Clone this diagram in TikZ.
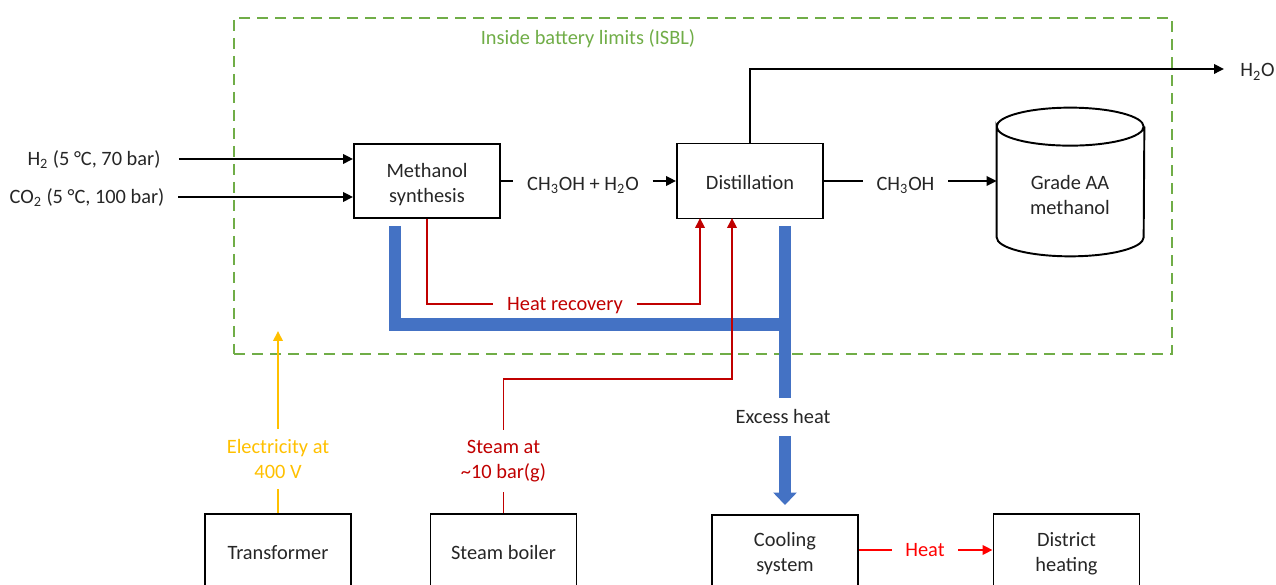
\documentclass[tikz,border=0pt]{standalone}
\usepackage{fontspec}
\usepackage{xcolor}
\setmainfont{Carlito}
\usetikzlibrary{arrows.meta}
\definecolor{limitgreen}{HTML}{70AD47}
\definecolor{heatblue}{HTML}{4472C4}
\definecolor{steamred}{HTML}{C00000}
\definecolor{powergold}{HTML}{FFC000}

\begin{document}
\begin{tikzpicture}[>={Triangle[length=0.2cm,width=0.19cm]},
        unit/.style={draw, line width=1.1pt, minimum width=2.92cm, minimum height=1.48cm, align=center, inner sep=0pt, text=black!85, font=\fontsize{11.6}{14.2}\selectfont},
        lbl/.style={align=center, inner xsep=0.27cm, inner ysep=0.1cm, text=black!85, font=\fontsize{11.6}{14.2}\selectfont},
        oneline/.style={text height=0.3cm, text depth=0.04cm},
        arr/.style={->, line width=1.1pt},
        heat/.style={line width=0.25cm, heatblue},
        redline/.style={line width=1.1pt, steamred},
        powerline/.style={line width=1.1pt, powergold},
    ]
    \clip (0, 0) rectangle (25.52, 11.7);
    \useasboundingbox (0, 0) rectangle (25.52, 11.7);

    % Battery limits
    \node[draw=limitgreen, line width=1.1pt, dash pattern=on 0.22cm off 0.14cm, minimum width=18.76cm, minimum height=6.72cm, inner sep=0pt] (isbl) at (14.06, 7.98) {};
    \node[lbl, oneline, text=limitgreen] (isbl_lbl) at (11.76, 10.94) {Inside battery limits (ISBL)};

    % Process units
    \node[unit] (synth) at (8.54, 8.08) {};
    \node[lbl] (synth_lbl) at (8.54, 8.0) {Methanol\\synthesis};
    \node[unit, text height=0.4cm, text depth=0.04cm, minimum height=1.5cm] (dist) at (15.0, 8.08) {Distillation};
    \node[minimum width=2.94cm, minimum height=2.96cm, inner sep=0pt] (tank) at (21.41, 8.06) {};
    \draw[line width=1.1pt] ([yshift=-0.38cm]tank.north west) arc[start angle=180, end angle=-180, x radius=1.47cm, y radius=0.38cm]
        -- ([yshift=0.38cm]tank.south west) arc[start angle=180, end angle=360, x radius=1.47cm, y radius=0.38cm]
        -- ([yshift=-0.38cm]tank.north east);
    \node[lbl] (tank_lbl) at (21.4, 7.8) {Grade AA\\methanol};

    % Utilities
    \node[unit, oneline, minimum height=1.56cm] (trafo) at (5.56, 0.64) {Transformer};
    \node[unit, oneline, minimum height=1.56cm] (boiler) at (10.07, 0.64) {Steam boiler};
    \node[unit, minimum height=1.54cm] (cooling) at (15.7, 0.63) {Cooling\\system};
    \node[unit, minimum height=1.6cm] (dh) at (21.33, 0.62) {District\\heating};

    % Feeds and products
    \node[lbl, oneline, inner xsep=0.36cm] (h2) at (1.88, 8.52) {H\textsubscript{2} (5 °C, 70 bar)};
    \node[lbl, oneline] (co2) at (1.74, 7.76) {CO\textsubscript{2} (5 °C, 100 bar)};
    \node[lbl, oneline] (mix) at (11.66, 8.02) {CH\textsubscript{3}OH + H\textsubscript{2}O};
    \node[lbl, oneline] (meoh) at (18.11, 8.02) {CH\textsubscript{3}OH};
    \node[lbl, text height=0.36cm, text depth=0.04cm, inner xsep=0.32cm] (water) at (25.15, 10.32) {H\textsubscript{2}O};

    % Heat integration, below the red lines
    \node[lbl, oneline, inner ysep=0.2cm] (excess) at (15.66, 3.36) {Excess heat};
    \coordinate (blue_syn) at (7.9, 7.18);
    \coordinate (blue_dist) at (15.7, 7.18);
    \coordinate (blue_join) at (15.7, 5.21);
    \draw[heat] (blue_syn) |- (blue_join);
    \draw[heat] (blue_dist) -- (blue_dist |- excess.north);
    \draw[heat, -{Triangle[length=0.25cm,width=0.46cm]}, shorten >=0.18cm] (blue_dist |- excess.south) -- (cooling.north);

    % Streams
    \draw[arr] (h2) -- (h2 -| synth.west);
    \draw[arr] (co2) -- (co2 -| synth.west);
    \draw[line width=1.1pt] (synth.east) -- (synth.east -| mix.west);
    \draw[arr] (mix.east |- dist.west) -- (dist.west);
    \draw[line width=1.1pt] (dist.east) -- (dist.east -| meoh.west);
    \draw[arr] (meoh.east |- dist.east) -- (tank.west |- dist.east);
    \draw[arr] (dist.north) |- (water);

    % Heat recovery
    \node[lbl, oneline, text=steamred] (recovery) at (11.3, 5.62) {Heat recovery};
    \coordinate (dist_rec) at (14.0, 7.34);
    \coordinate (dist_steam) at (14.64, 7.34);
    \draw[redline] (synth.south) |- (recovery);
    \draw[redline, ->] (recovery) -| (dist_rec);

    % Steam
    \node[lbl, text=steamred, inner ysep=0.2cm] (steam) at (10.07, 2.48) {Steam at\\\textasciitilde10 bar(g)};
    \draw[redline] (boiler) -- (steam);
    \draw[redline, ->] (steam.north) |- (14.64, 4.12) -- (dist_steam);

    % Electricity
    \node[lbl, text=powergold, inner ysep=0.2cm] (power) at (5.56, 2.52) {Electricity at\\400 V};
    \draw[powerline] (trafo) -- (power);
    \draw[powerline, ->] (power.north) -- (5.56, 5.08);

    % Heat to the district
    \node[lbl, oneline, text=red] (heatout) at (18.5, 0.7) {Heat};
    \draw[line width=1.1pt, red] (cooling.east |- heatout) -- (heatout);
    \draw[line width=1.1pt, red, ->] (heatout) -- (heatout -| dh.west);
\end{tikzpicture}
\end{document}
